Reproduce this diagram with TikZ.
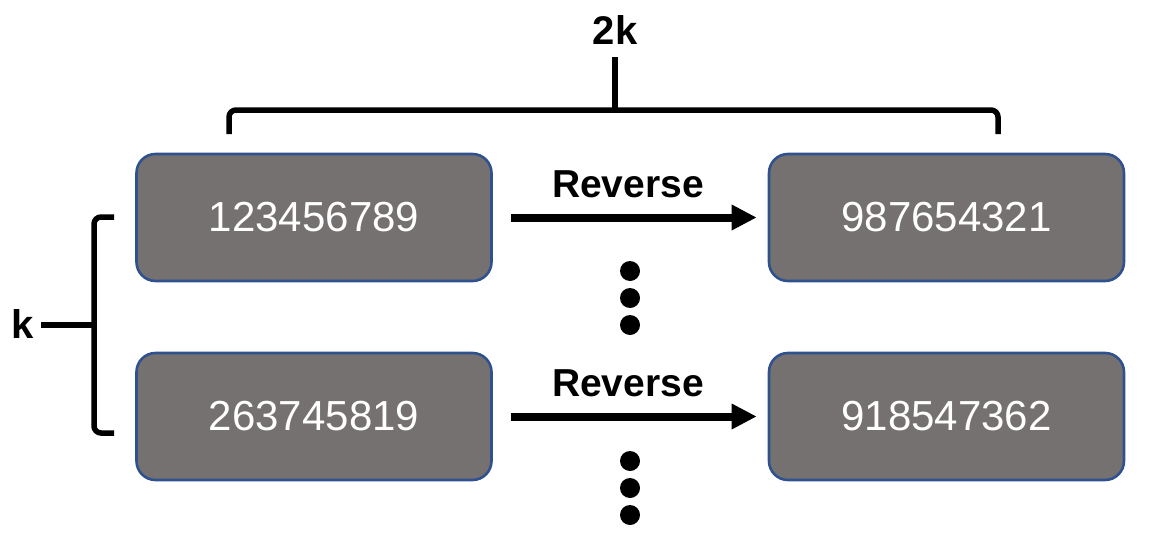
\documentclass[tikz,border=0pt]{standalone}
\usepackage{fontspec}
\setmainfont{Liberation Sans}
\usetikzlibrary{arrows.meta}
\definecolor{boxfill}{HTML}{767171}
\definecolor{boxline}{HTML}{2F528F}
\tikzset{
  numbox/.style={draw=boxline, line width=2.6pt, fill=boxfill, rounded corners=19pt,
    minimum width=355pt, minimum height=127pt, inner sep=0pt, text=white,
    font=\fontsize{42}{50}\selectfont},
  revarrow/.style={line width=8pt, -{Triangle[length=25pt,width=24pt]},
    shorten <=18pt, shorten >=11pt},
  revlabel/.style={anchor=base, inner sep=0pt, font=\bfseries\fontsize{39}{46}\selectfont},
  dotnode/.style={circle, fill=black, minimum size=20pt, inner sep=0pt},
  bracket/.style={line width=5.5pt, rounded corners=7pt},
  bracelabel/.style={inner sep=0pt, font=\bfseries\fontsize{40}{48}\selectfont}
}
\begin{document}
\begin{tikzpicture}[x=1pt, y=-1pt]
\useasboundingbox (0,0) rectangle (1162,538);
% boxes
\node[numbox] (b1) at (314,217.5) {123456789};
\node[numbox] (b2) at (946.5,217.5) {987654321};
\node[numbox] (b3) at (314,416.5) {263745819};
\node[numbox] (b4) at (946.5,416.5) {918547362};
% arrows
\draw[revarrow] (b1.east) -- (b2.west);
\draw[revarrow] (b3.east) -- (b4.west);
\node[revlabel] (r1) at (628,197) {Reverse};
\node[revlabel] (r2) at (628,396) {Reverse};
% dots
\node[dotnode] (d1) at (630,271) {};
\node[dotnode] (d2) at (630,298) {};
\node[dotnode] (d3) at (630,325) {};
\node[dotnode] (d4) at (630,461) {};
\node[dotnode] (d5) at (630,488) {};
\node[dotnode] (d6) at (630,515) {};
% top bracket
\draw[bracket] (229,134) -- (229,110) -- (616,110);
\draw[bracket] (998,134) -- (998,110) -- (614,110);
\draw[line width=5.5pt] (615,112) -- (615,57);
\node[bracelabel] (twok) at (615,30) {2k};
% left bracket
\draw[bracket] (114,217) -- (94,217) -- (94,328);
\draw[bracket] (114,433) -- (94,433) -- (94,322);
\draw[line width=5.5pt] (96,325) -- (41,325);
\node[bracelabel] (k) at (23,324) {k};
\end{tikzpicture}
\end{document}
